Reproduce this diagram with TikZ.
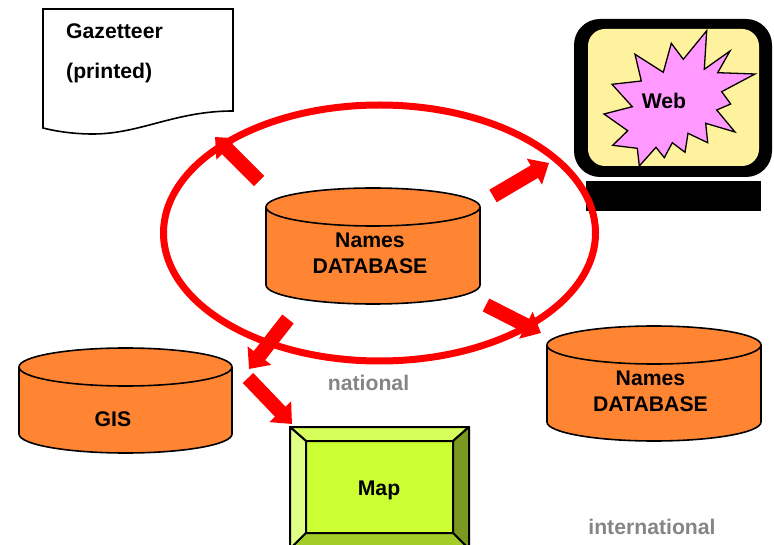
\documentclass[tikz,border=0pt]{standalone}
\usepackage{fontspec}
\setmainfont{Liberation Sans}
\usetikzlibrary{arrows.meta}
\definecolor{cylorange}{HTML}{FF8533}
\definecolor{screenfill}{HTML}{FFF29E}
\definecolor{burst}{HTML}{FF99FF}
\definecolor{mapface}{HTML}{CCFF33}
\definecolor{maptop}{HTML}{D6FF5C}
\definecolor{mapleft}{HTML}{E0FF85}
\definecolor{mapright}{HTML}{7A991F}
\definecolor{mapbottom}{HTML}{A3CC29}
\definecolor{labelgray}{HTML}{858585}
\tikzset{
  lbl/.style={font=\fontsize{21.2}{25.5}\selectfont\bfseries,align=center,inner sep=0pt,anchor=base},
  graylbl/.style={lbl,text=labelgray},
  cyl/.style={draw=black,line width=1.6pt,fill=cylorange},
  bevel/.style={draw=black,line width=2pt,line join=round},
  fatarrow/.style={draw=red,line width=14.5pt,-{Triangle[length=17pt,width=29pt]}},
}
% centre x, top y, bottom y, half width, ellipse half height
\newcommand{\cylshape}[5]{%
  \path[cyl] (#1-#4,#2+#5) -- (#1-#4,#3-#5) arc[start angle=180,end angle=360,x radius=#4,y radius=-#5] -- (#1+#4,#2+#5) arc[start angle=0,end angle=180,x radius=#4,y radius=-#5] -- cycle;
  \path[cyl] (#1-#4,#2+#5) arc[start angle=180,end angle=360,x radius=#4,y radius=-#5];
}
\begin{document}
\begin{tikzpicture}[x=1pt,y=-1pt]
\useasboundingbox (0,0) rectangle (774,545);
\clip (0,0) rectangle (774,545);

% printed document
\draw[black,line width=1.6pt,fill=white] (43,9) -- (233,9) -- (233,111)
  .. controls (175,111) and (140,134) .. (93,134)
  .. controls (72,134) and (55,131) .. (43,128) -- cycle;
\node[lbl,anchor=base west] (gaz) at (66,39) {Gazetteer};
\node[lbl,anchor=base west] (prt) at (66,78.5) {(printed)};

% monitor
\fill[black,rounded corners=26pt] (574,19) rectangle (772,177);
\fill[screenfill,rounded corners=17pt] (588,29) rectangle (759,166);
\fill[black] (586,181) rectangle (761,211);
\draw[black,line width=1.3pt,line join=miter,fill=burst]
  (706.7,30.7) -- (704.3,69.3) -- (730,51) -- (717.7,72.7) -- (755,74) -- (721.7,91.7) -- (730.7,104) -- (716.7,110)
  -- (735,132) -- (705.7,123.3) -- (707.7,142.7) -- (688,133.3) -- (685,152.3) -- (672.3,142.7) -- (664.3,157.7)
  -- (656,147.3) -- (639.3,166) -- (637.3,148.3) -- (612.7,145.3) -- (627.7,130.7) -- (604,114) -- (632.3,106.7)
  -- (612,84.3) -- (641.3,81) -- (635,54.3) -- (663.3,72.3) -- (671.3,43.3) -- (683.3,59.3) -- cycle;
\node[lbl] (web) at (664,108.5) {Web};

% cylinders
\cylshape{373}{188}{304}{107}{19}
\node[lbl] (db1a) at (370,247.5) {Names};
\node[lbl] (db1b) at (370,273.5) {DATABASE};
\cylshape{125.5}{348}{453}{106.5}{19}
\node[lbl] (gis) at (113,426) {GIS};
\cylshape{654}{326}{441}{107}{19}
\node[lbl] (db2a) at (650.5,385) {Names};
\node[lbl] (db2b) at (650.5,411) {DATABASE};

% map
\fill[mapface] (306,441) rectangle (453,533);
\path[bevel,fill=maptop] (290,427) -- (469,427) -- (453,441) -- (306,441) -- cycle;
\path[bevel,fill=mapleft] (290,427) -- (306,441) -- (306,533) -- (290,549) -- cycle;
\path[bevel,fill=mapright] (469,427) -- (453,441) -- (453,533) -- (469,549) -- cycle;
\path[bevel,fill=mapbottom] (290,549) -- (306,533) -- (453,533) -- (469,549) -- cycle;
\node[lbl] (map) at (379,495) {Map};

% ring
\draw[red,line width=7pt] (379.5,233) ellipse [x radius=216,y radius=128];

% labels
\node[graylbl] (nat) at (368.5,390) {national};
\node[graylbl] (int) at (652,534) {international};

% arrows
\coordinate (a1s) at (259,181);
\coordinate (a1e) at (215,137);
\coordinate (a2s) at (493,196);
\coordinate (a2e) at (549,163);
\coordinate (a3s) at (486,305);
\coordinate (a3e) at (541,333);
\coordinate (a4s) at (288,319);
\coordinate (a4e) at (249,369);
\coordinate (a5s) at (248,378);
\coordinate (a5e) at (292,424);
\foreach \s/\e in {a1s/a1e,a2s/a2e,a3s/a3e,a4s/a4e,a5s/a5e}
  \draw[fatarrow] (\s) -- (\e);
\end{tikzpicture}
\end{document}
